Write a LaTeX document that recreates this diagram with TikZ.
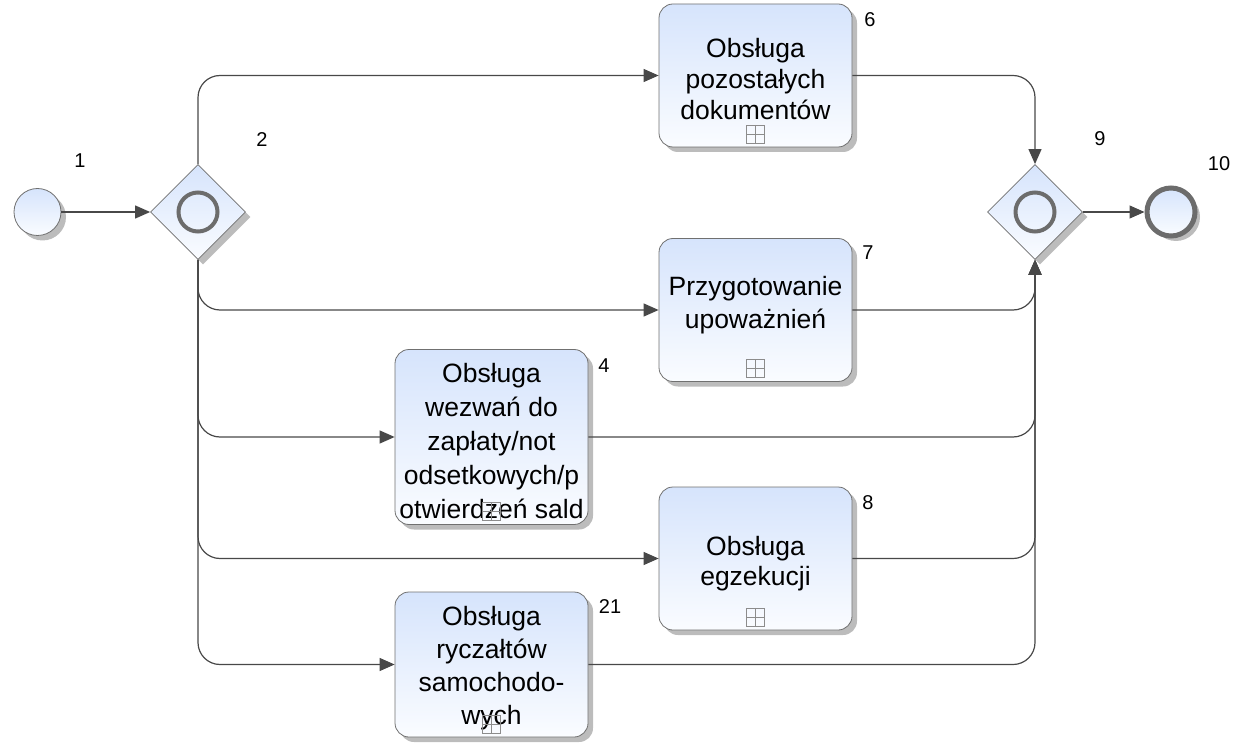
\documentclass[tikz,border=0pt]{standalone}
\usepackage{fontspec}
\setmainfont{Liberation Sans}
\usetikzlibrary{shapes.geometric,arrows.meta,shadows}

\definecolor{fillTop}{RGB}{214,228,252}
\definecolor{fillBot}{RGB}{250,252,255}
\definecolor{edgeGray}{RGB}{112,112,112}
\definecolor{flowGray}{RGB}{72,72,72}
\definecolor{markGray}{RGB}{108,108,108}
\definecolor{shadowGray}{RGB}{188,188,188}
\definecolor{plusGray}{RGB}{140,140,140}

% task text: first baseline placed #1 above the box centre
\newcommand{\tasktext}[2]{\raisebox{#1}[0pt][0pt]{\begin{tabular}[t]{@{}c@{}}#2\end{tabular}}}

\begin{document}
\begin{tikzpicture}[x=1pt,y=-1pt,
  shade/.style={top color=fillTop,bottom color=fillBot},
  shadowed/.style={drop shadow={shadow xshift=5pt,shadow yshift=-5pt,fill=shadowGray,opacity=1}},
  task/.style={shade,shadowed,draw=edgeGray,line width=0.8pt,rounded corners=14pt,
    minimum width=193pt,minimum height=143pt,inner sep=0pt,align=center,
    font=\fontsize{26.5}{#1}\selectfont},
  task/.default=31,
  gateway/.style={diamond,aspect=1,minimum width=95pt,minimum height=95pt,inner sep=0pt,
    shade,shadowed,draw=edgeGray,line width=0.8pt},
  gwring/.style={circle,draw=markGray,line width=4pt,minimum size=39pt,inner sep=0pt},
  startev/.style={circle,minimum size=47pt,inner sep=0pt,shade,shadowed,draw=edgeGray,line width=0.8pt},
  endev/.style={circle,minimum size=48pt,inner sep=0pt,shade,shadowed,draw=markGray,line width=5pt},
  submark/.style={draw=plusGray,line width=0.7pt,minimum size=18pt,inner sep=0pt,
    path picture={\draw[plusGray,line width=0.7pt]
      (path picture bounding box.north) -- (path picture bounding box.south)
      (path picture bounding box.west) -- (path picture bounding box.east);}},
  num/.style={font=\fontsize{20}{23}\selectfont,inner sep=0pt},
  flow/.style={draw=flowGray,line width=1.2pt,rounded corners=22pt,
    -{Triangle[length=15pt,width=13pt]}}
]
\useasboundingbox (0,0) rectangle (1242,743);

% events and gateways
\node[startev] (s1) at (37.5,212) {};
\node[gateway] (g2) at (198,212) {};
\node[gwring] (g2r) at (198,212) {};
\node[gateway] (g9) at (1035,212) {};
\node[gwring] (g9r) at (1035,212) {};
\node[endev] (e10) at (1171,212) {};

% sub-process tasks
\node[task=31] (t6) at (755.5,75.5) {\tasktext{17.5pt}{Obsługa\\pozostałych\\dokumentów}};
\node[task=33] (t7) at (755.5,310) {\tasktext{15pt}{Przygotowanie\\upoważnień}};
\node[task=34,minimum height=175pt] (t4) at (491.5,437) {\tasktext{55pt}{Obsługa\\wezwań do\\zapłaty/not\\odsetkowych/p\\otwierdzeń sald}};
\node[task=30] (t8) at (755.5,558.5) {\tasktext{3.5pt}{Obsługa\\egzekucji}};
\node[task=33,minimum height=145pt] (t21) at (491.5,664.5) {\tasktext{39.5pt}{Obsługa\\ryczałtów\\samochodo-\\wych}};

% collapsed sub-process markers
\node[submark] (m6) at ([yshift=13.5pt]t6.south) {};
\node[submark] (m7) at ([yshift=13.5pt]t7.south) {};
\node[submark] (m4) at ([yshift=13.5pt]t4.south) {};
\node[submark] (m8) at ([yshift=13.5pt]t8.south) {};
\node[submark] (m21) at ([yshift=13.5pt]t21.south) {};

% element numbers
\node[num] (l1) at (80,161) {1};
\node[num] (l2) at (262,140) {2};
\node[num] (l6) at (870,20) {6};
\node[num] (l7) at (868,253) {7};
\node[num] (l4) at (604,366) {4};
\node[num] (l8) at (868,503) {8};
\node[num] (l21) at (610,607) {21};
\node[num] (l9) at (1100,139) {9};
\node[num] (l10) at (1219,164) {10};

% sequence flows
\draw[flow] (s1) -- (g2.west);
\draw[flow] (g2.north) |- (t6.west);
\draw[flow] (g2.south) |- (t7.west);
\draw[flow] (g2.south) |- (t4.west);
\draw[flow] (g2.south) |- (t8.west);
\draw[flow] (g2.south) |- (t21.west);
\draw[flow] (t6.east) -| (g9.north);
\draw[flow] (t7.east) -| (g9.south);
\draw[flow] (t4.east) -| (g9.south);
\draw[flow] (t8.east) -| (g9.south);
\draw[flow] (t21.east) -| (g9.south);
\draw[flow] (g9.east) -- (e10);
\end{tikzpicture}
\end{document}
